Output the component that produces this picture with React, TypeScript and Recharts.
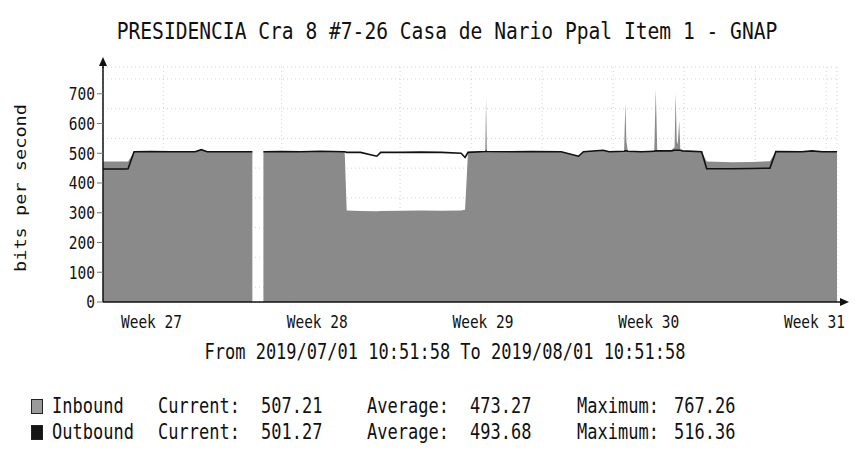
import React from "react";
import {
  ComposedChart,
  Area,
  Line,
  XAxis,
  YAxis,
  CartesianGrid,
} from "recharts";

// hours since 2019/07/01 10:51:58
const hours = [
  0, 22.4, 25.4, 31.5, 47.8, 68, 93.5, 99.6, 105.7, 129, 151.4, 152.5, 161,
  162.6, 180, 200, 220.5, 245, 247, 261, 277.5, 281.5, 302, 322, 343, 363, 367,
  370, 387.5, 388.3, 389.1, 413.7, 434, 464.5, 482, 487, 507, 513, 528.2, 529.5,
  530.5, 532, 545.8, 558.8, 560.3, 561.8, 576, 579.4, 580.4, 581.6, 582.6, 584.1,
  585.2, 587.5, 606.8, 611.9, 637, 657.6, 676, 682, 708.5, 718.6, 729, 744,
];
const inbound = [
  472, 472, 472, 505, 505, 504, 505, 511, 505, 504, 505, null, null,
  505, 504, 505, 506, 505, 308, 306, 305, 306, 307, 308, 307, 308, 310,
  505, 507, 686, 507, 505, 506, 505, 492, 505, 511, 505, 508, 670,
  540, 508, 505, 510, 715, 510, 510, 520, 701, 540, 530, 609,
  510, 508, 505, 472, 470, 471, 473, 505, 505, 508, 505, 505,
];
const outbound = [
  447, 447, 448, 505, 506, 505, 505, 512, 505, 505, 505, null, null,
  505, 506, 505, 507, 505, 503, 503, 490, 503, 503, 504, 503, 500, 486,
  503, 506, 507, 506, 505, 506, 505, 490, 505, 510, 505, 507, 508,
  508, 507, 505, 507, 508, 508, 508, 510, 510, 510, 510, 510,
  510, 508, 505, 448, 448, 449, 450, 506, 505, 508, 505, 505,
];

const yTicks = [0, 100, 200, 300, 400, 500, 600, 700];
const yMinor = [0, 50, 100, 150, 200, 250, 300, 350, 400, 450, 500, 550, 600, 650, 700, 750];
const weekTicks = [49.14, 217.14, 385.14, 553.14, 721.14];
const weekLabels = ["Week 27", "Week 28", "Week 29", "Week 30", "Week 31"];
const dayTicks = Array.from({ length: 31 }, (_, i) => 13.134 + 24 * i);

const title = "PRESIDENCIA Cra 8 #7-26 Casa de Nario Ppal Item 1 - GNAP";
const subtitle = "From 2019/07/01 10:51:58 To 2019/08/01 10:51:58";
const legendRows = [
  { name: "Inbound", color: "#9a9a9a", current: "507.21", average: "473.27", maximum: "767.26" },
  { name: "Outbound", color: "#151515", current: "501.27", average: "493.68", maximum: "516.36" },
];

const data = hours.map((h, i) => ({ h, in: inbound[i], out: outbound[i] }));

const MONO = "'DejaVu Sans Mono', 'Liberation Mono', monospace";

const YTick = ({ x, y, payload }: any) => (
  <g transform={`translate(${x},${y}) scale(1,1.2)`}>
    <text x={0} y={0} dy="0.36em" textAnchor="end" fontFamily={MONO} fontSize={14.5} fill="#111">
      {payload.value}
    </text>
  </g>
);

const XTick = ({ x, y, payload }: any) => (
  <g transform={`translate(${x},${y + 12}) scale(1,1.2)`}>
    <text x={0} y={0} dy="0.36em" textAnchor="middle" fontFamily={MONO} fontSize={14.5} fill="#111">
      {weekLabels[weekTicks.indexOf(payload.value)]}
    </text>
  </g>
);

const txt = (extra: React.CSSProperties): React.CSSProperties => ({
  position: "absolute",
  fontFamily: MONO,
  color: "#111",
  whiteSpace: "pre",
  lineHeight: 1,
  ...extra,
});

export default function App() {
  return (
    <div style={{ position: "absolute", left: 0, top: 0, width: 868, height: 450, background: "#fff", overflow: "hidden" }}>
      <ComposedChart
        width={868}
        height={450}
        data={data}
        margin={{ top: 67, right: 31, bottom: 118, left: 43 }}
      >
        <XAxis xAxisId="days" type="number" dataKey="h" domain={[0, 744]} ticks={dayTicks} hide allowDataOverflow />
        <YAxis yAxisId="minor" type="number" domain={[0, 790]} ticks={yMinor} hide allowDataOverflow />
        <CartesianGrid xAxisId="days" yAxisId="minor" stroke="#d2d2d2" strokeDasharray="1 3" />
        <XAxis
          type="number"
          dataKey="h"
          domain={[0, 744]}
          ticks={weekTicks}
          height={30}
          tick={<XTick />}
          tickLine={false}
          axisLine={{ stroke: "#111", strokeWidth: 1.5 }}
          allowDataOverflow
        />
        <YAxis
          type="number"
          domain={[0, 790]}
          ticks={yTicks}
          width={60}
          tick={<YTick />}
          tickSize={6}
          tickLine={{ stroke: "#777" }}
          axisLine={{ stroke: "#111", strokeWidth: 1.5 }}
          allowDataOverflow
        />
        <Area
          type="linear"
          dataKey="in"
          stroke="none"
          fill="#8a8a8a"
          fillOpacity={1}
          isAnimationActive={false}
          connectNulls={false}
        />
        <Line
          type="linear"
          dataKey="out"
          stroke="#111"
          strokeWidth={1.6}
          dot={false}
          isAnimationActive={false}
          connectNulls={false}
        />
      </ComposedChart>

      {/* axis arrows */}
      <svg width={868} height={450} style={{ position: "absolute", left: 0, top: 0, pointerEvents: "none" }}>
        <line x1={103} y1={68} x2={103} y2={60} stroke="#111" strokeWidth={1.5} />
        <polygon points="99,66 107,66 103,57" fill="#111" />
        <line x1={837} y1={302} x2={842} y2={302} stroke="#111" strokeWidth={1.5} />
        <polygon points="840,298 840,306 849,302" fill="#111" />
      </svg>

      <div style={txt({ left: 447, top: 32, fontSize: 19.6, transform: "translate(-50%, -50%) scaleY(1.17)" })}>{title}</div>
      <div style={txt({ left: 22, top: 188, fontSize: 15.5, transform: "translate(-50%, -50%) rotate(-90deg) scaleX(1.2)" })}>
        bits per second
      </div>
      <div style={txt({ left: 445, top: 352, fontSize: 17, transform: "translate(-50%, -50%) scaleY(1.2)" })}>{subtitle}</div>

      {legendRows.map((r, i) => {
        const cy = 406 + i * 26;
        return (
          <React.Fragment key={r.name}>
            <div
              style={{
                position: "absolute",
                left: 31,
                top: cy - 7,
                width: 10,
                height: 13,
                background: r.color,
                border: "1px solid #222",
              }}
            />
            {[
              [52, r.name],
              [158, "Current:"],
              [261, r.current],
              [367, "Average:"],
              [470, r.average],
              [577, "Maximum:"],
              [674, r.maximum],
            ].map(([x, s]) => (
              <div key={String(x)} style={txt({ left: x as number, top: cy, fontSize: 17, transform: "translateY(-50%) scaleY(1.2)" })}>
                {s}
              </div>
            ))}
          </React.Fragment>
        );
      })}
    </div>
  );
}
